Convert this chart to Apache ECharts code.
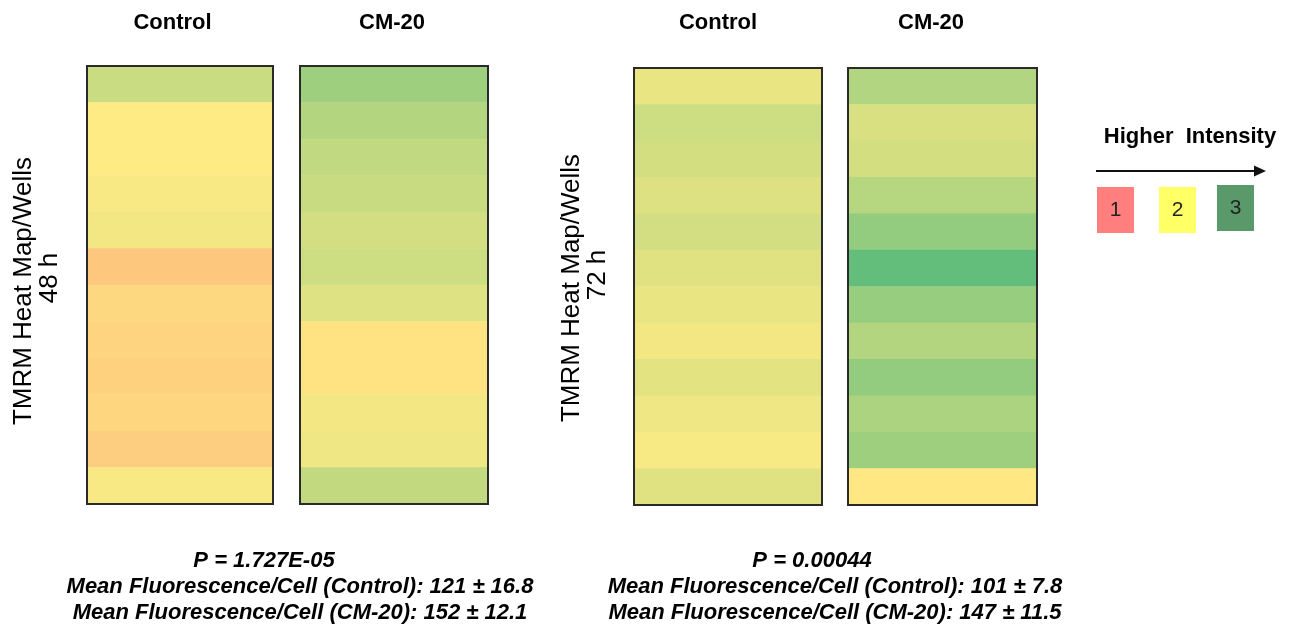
<!DOCTYPE html>
<html>
<head>
<meta charset="utf-8">
<script src="https://cdn.jsdelivr.net/npm/echarts@6/dist/echarts.min.js"></script>
<style>
html,body{margin:0;padding:0;background:#fff;}
#c{width:1292px;height:632px;}
</style>
</head>
<body>
<div id="c"></div>
<script>
// ---- data ----
const wells = ['W1','W2','W3','W4','W5','W6','W7','W8','W9','W10','W11','W12'];
const groups = ['Control', 'CM-20'];
// relative intensity score (0 = low / red, 50 = mid / yellow, 100 = high / green)
const control48 = [67, 50, 50, 52, 54, 36, 42.5, 41, 40, 42, 39, 52];
const cm20_48   = [81, 74, 70, 67.5, 64.5, 66, 60.5, 47, 47, 54, 55, 69.5];
const control72 = [57, 66, 64, 61, 64.5, 60, 57, 54, 59, 55, 52.5, 60];
const cm20_72   = [75, 62.5, 64, 73, 84.5, 100, 83.5, 74, 84.5, 76.5, 81.5, 48.5];
const legendLevels = ['1', '2', '3'];
const stats48 = ['P = 1.727E-05', 'Mean Fluorescence/Cell (Control): 121 \u00b1 16.8', 'Mean Fluorescence/Cell (CM-20): 152 \u00b1 12.1'];
const stats72 = ['P = 0.00044', 'Mean Fluorescence/Cell (Control): 101 \u00b1 7.8', 'Mean Fluorescence/Cell (CM-20): 147 \u00b1 11.5'];

const FONT = 'Liberation Sans, Arial, sans-serif';
const panels = [
  {vals: control48, name: groups[0], left: 87,  top: 66, width: 186, height: 438, margin: 32, padR: 15},
  {vals: cm20_48,   name: groups[1], left: 300, top: 66, width: 188, height: 438, margin: 32, padR: 4},
  {vals: control72, name: groups[0], left: 634, top: 68, width: 188, height: 437, margin: 34, padR: 20},
  {vals: cm20_72,   name: groups[1], left: 848, top: 68, width: 189, height: 437, margin: 34, padR: 23}
];

const grid = [], xAxis = [], yAxis = [], series = [];
panels.forEach((p, i) => {
  grid.push({left: p.left, top: p.top, width: p.width, height: p.height, show: true,
    borderColor: '#2a2a2a', borderWidth: 2, backgroundColor: 'transparent', z: 5});
  xAxis.push({type: 'category', gridIndex: i, position: 'top', data: [p.name],
    axisLine: {show: false}, axisTick: {show: false}, splitLine: {show: false},
    axisLabel: {show: true, margin: p.margin, fontSize: 22, fontWeight: 'bold', color: '#000',
      fontFamily: FONT, lineHeight: 22, padding: [0, p.padR, 0, 0]}});
  yAxis.push({type: 'category', gridIndex: i, data: wells, inverse: true,
    axisLine: {show: false}, axisTick: {show: false}, axisLabel: {show: false}, splitLine: {show: false}});
  series.push({type: 'heatmap', xAxisIndex: i, yAxisIndex: i,
    data: p.vals.map((v, r) => [0, r, v]), itemStyle: {borderWidth: 0}, emphasis: {disabled: true}});
});

const graphic = [];
function addText(x, y, text, opts) {
  graphic.push({type: 'text', x: x, y: y, rotation: opts.rotation || 0,
    style: Object.assign({text: text, textAlign: 'center', textVerticalAlign: 'middle',
      fill: '#000', fontFamily: FONT}, opts.style || {})});
}
// y labels
addText(24, 291, 'TMRM Heat Map/Wells', {rotation: Math.PI/2, style: {fontSize: 26}});
addText(50, 278, '48 h', {rotation: Math.PI/2, style: {fontSize: 26}});
addText(572, 288, 'TMRM Heat Map/Wells', {rotation: Math.PI/2, style: {fontSize: 26}});
addText(598, 275, '72 h', {rotation: Math.PI/2, style: {fontSize: 26}});
// stats
const bi = {fontSize: 22, fontWeight: 'bold', fontStyle: 'italic'};
addText(264, 561, stats48[0], {style: bi});
addText(300, 587, stats48[1], {style: bi});
addText(300, 613, stats48[2], {style: bi});
addText(812, 561, stats72[0], {style: bi});
addText(835, 587, stats72[1], {style: bi});
addText(835, 613, stats72[2], {style: bi});
// legend
addText(1190, 137, 'Higher  Intensity', {style: {fontSize: 22, fontWeight: 'bold'}});
graphic.push({type: 'line', shape: {x1: 1096, y1: 171, x2: 1256, y2: 171}, style: {stroke: '#111', lineWidth: 2}});
graphic.push({type: 'polygon', shape: {points: [[1254, 165.5], [1266, 171], [1254, 176.5]]}, style: {fill: '#111'}});
const legendColors = ['#FF7F7F', '#FFFF66', '#5A9A6A'];
const legendBoxes = [[1097, 187], [1159, 187], [1217, 185]];
legendLevels.forEach((lv, i) => {
  const b = legendBoxes[i];
  graphic.push({type: 'rect', shape: {x: b[0], y: b[1], width: 37, height: 46}, style: {fill: legendColors[i]}});
  addText(b[0] + 18.5, b[1] + 23, lv, {style: {fontSize: 21, fill: '#222'}});
});

const chart = echarts.init(document.getElementById('c'), null, {renderer: 'canvas'});
chart.setOption({
  animation: false,
  backgroundColor: '#fff',
  grid: grid, xAxis: xAxis, yAxis: yAxis, series: series,
  visualMap: {type: 'continuous', show: false, min: 0, max: 100, dimension: 2,
    seriesIndex: [0, 1, 2, 3], inRange: {color: ['#F8696B', '#FFEB84', '#63BE7B']}},
  graphic: graphic
});
</script>
</body>
</html>
